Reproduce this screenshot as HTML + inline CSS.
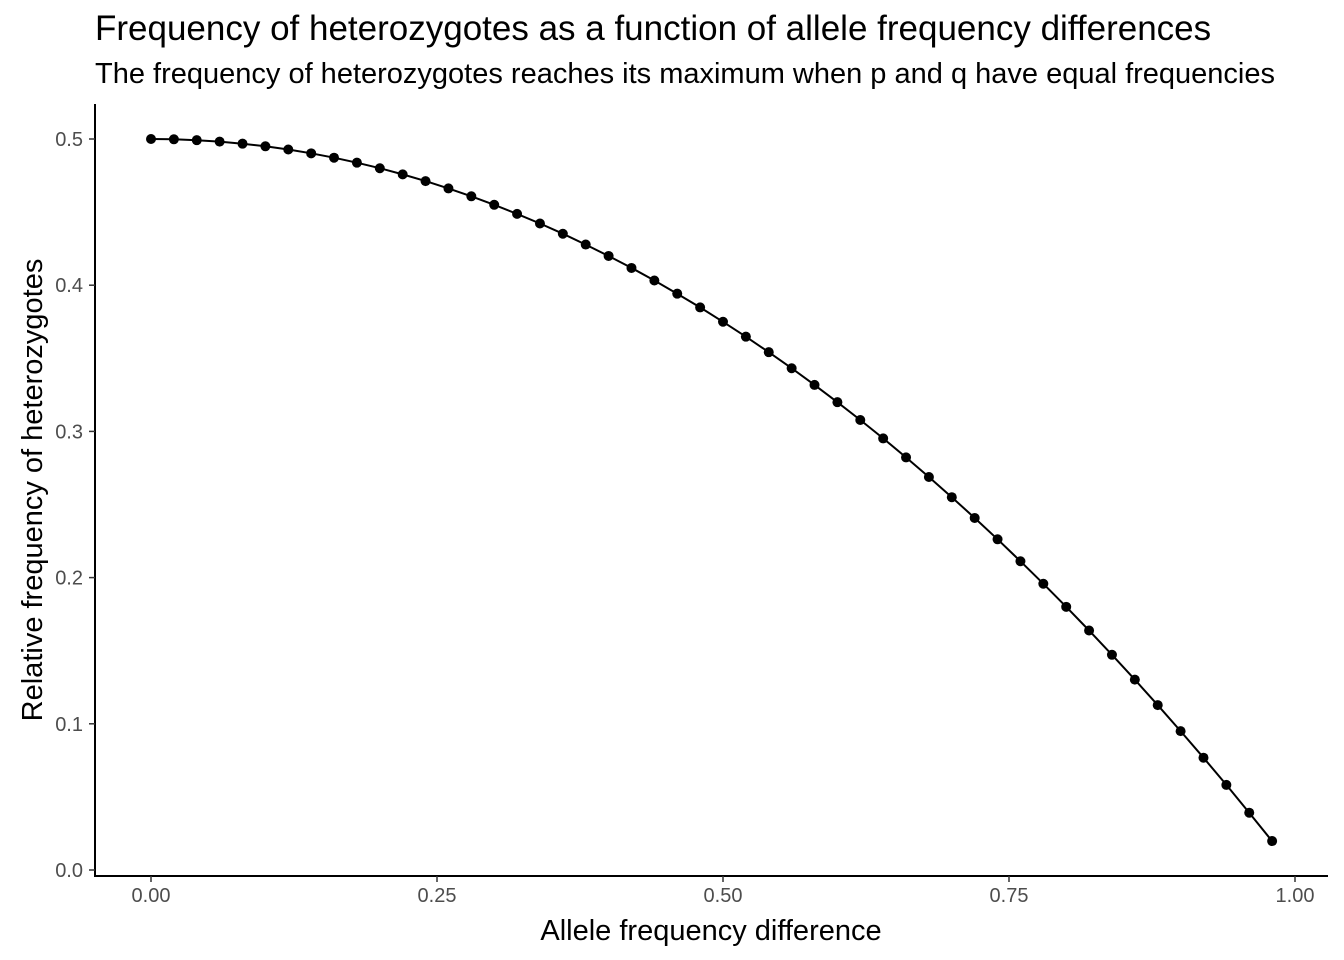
<!DOCTYPE html>
<html><head><meta charset="utf-8"><style>
html,body{margin:0;padding:0;background:#fff;}
svg{display:block;font-family:"Liberation Sans",Arial,sans-serif;}
</style></head><body>
<svg id="chart" width="1344" height="960" viewBox="0 0 1344 960">
<text x="95" y="40" font-size="35" fill="#000">Frequency of heterozygotes as a function of allele frequency differences</text>
<text x="95" y="83" font-size="29" fill="#000">The frequency of heterozygotes reaches its maximum when p and q have equal frequencies</text>
<text x="711" y="940" font-size="29" text-anchor="middle" fill="#000">Allele frequency difference</text>
<text transform="translate(42,490) rotate(-90)" font-size="29" text-anchor="middle" fill="#000">Relative frequency of heterozygotes</text>
<g id="axes"></g>
<g id="marks"></g>
</svg>
<script>
const xValues=[0,0.02,0.04,0.06,0.08,0.10,0.12,0.14,0.16,0.18,0.20,0.22,0.24,0.26,0.28,0.30,0.32,0.34,0.36,0.38,0.40,0.42,0.44,0.46,0.48,0.50,0.52,0.54,0.56,0.58,0.60,0.62,0.64,0.66,0.68,0.70,0.72,0.74,0.76,0.78,0.80,0.82,0.84,0.86,0.88,0.90,0.92,0.94,0.96,0.98];
const yValues=[0.5,0.4998,0.4992,0.4982,0.4968,0.495,0.4928,0.4902,0.4872,0.4838,0.48,0.4758,0.4712,0.4662,0.4608,0.455,0.4488,0.4422,0.4352,0.4278,0.42,0.4118,0.4032,0.3942,0.3848,0.375,0.3648,0.3542,0.3432,0.3318,0.32,0.3078,0.2952,0.2822,0.2688,0.255,0.2408,0.2262,0.2112,0.1958,0.18,0.1638,0.1472,0.1302,0.1128,0.095,0.0768,0.0582,0.0392,0.0198];
const xTicks=[0,0.25,0.5,0.75,1];
const xTickLabels=["0.00","0.25","0.50","0.75","1.00"];
const yTicks=[0,0.1,0.2,0.3,0.4,0.5];
const yTickLabels=["0.0","0.1","0.2","0.3","0.4","0.5"];

const NS="http://www.w3.org/2000/svg";
function X(v){return 151+v*1144;}
function Y(v){return 870-v*1462;}
function mk(tag,attrs,parent){const e=document.createElementNS(NS,tag);for(const k in attrs)e.setAttribute(k,attrs[k]);parent.appendChild(e);return e;}
const axes=document.getElementById('axes'), marks=document.getElementById('marks');
let e=mk('line',{x1:95,y1:104,x2:95,y2:877,stroke:'#000','stroke-width':2},axes);


e=mk('line',{x1:94,y1:876,x2:1328,y2:876,stroke:'#000','stroke-width':2},axes);


xTicks.forEach((t,i)=>{
  const tk=mk('line',{x1:X(t),y1:876,x2:X(t),y2:882,stroke:'#333','stroke-width':1.5},axes);
  
  
  const lb=mk('text',{x:X(t),y:902,'font-size':20,'text-anchor':'middle',fill:'#4d4d4d'},axes);
  lb.textContent=xTickLabels[i];
  
  
});
yTicks.forEach((t,i)=>{
  const tk=mk('line',{x1:89,y1:Y(t),x2:95,y2:Y(t),stroke:'#333','stroke-width':1.5},axes);
  
  
  const lb=mk('text',{x:83,y:Y(t)+7,'font-size':20,'text-anchor':'end',fill:'#4d4d4d'},axes);
  lb.textContent=yTickLabels[i];
  
  
});
const pts=xValues.map((x,i)=>X(x).toFixed(1)+','+Y(yValues[i]).toFixed(1)).join(' ');
const ln=mk('polyline',{points:pts,fill:'none',stroke:'#000','stroke-width':2},marks);


xValues.forEach((x,i)=>{
  const c=mk('circle',{cx:X(x),cy:Y(yValues[i]),r:5,fill:'#000'},marks);
  
  
});
</script>
</body></html>
